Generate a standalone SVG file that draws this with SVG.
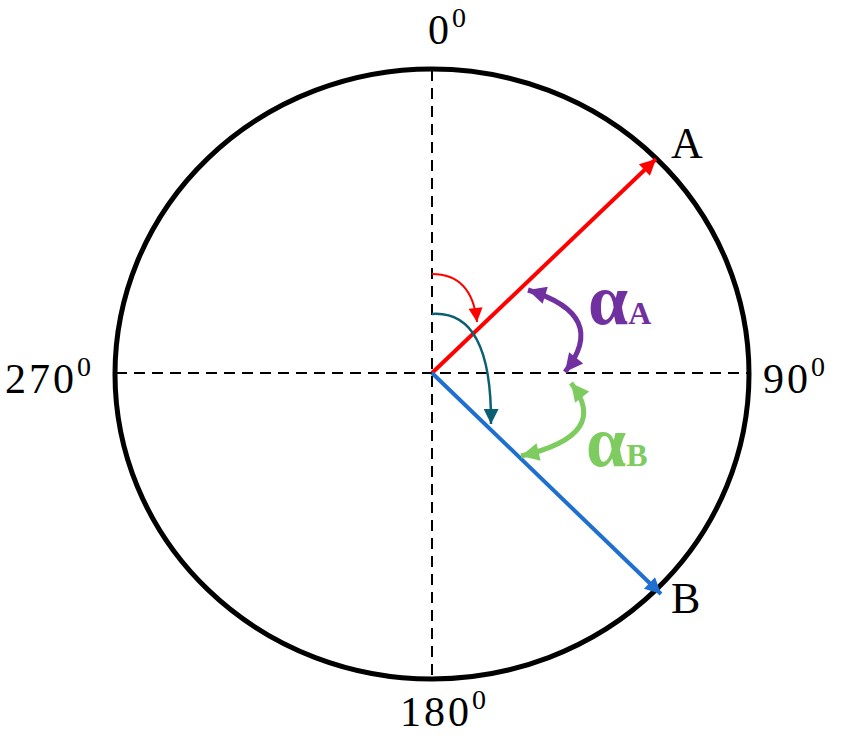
<svg xmlns="http://www.w3.org/2000/svg" width="843" height="739" viewBox="0 0 843 739">
<style>
.lbl{font-family:"Liberation Serif","DejaVu Serif",serif;fill:#000;}
.num{font-size:42px;letter-spacing:3px;}
.ax{stroke:#000;stroke-width:2;stroke-dasharray:11 7;fill:none;}
</style>
<defs>
<marker id="mRed" viewBox="0 0 10 10" refX="10" refY="5" markerUnits="userSpaceOnUse" markerWidth="20" markerHeight="16" orient="auto"><path d="M0,0 L10,5 L0,10 Z" fill="#ff0000"/></marker>
<marker id="mBlue" viewBox="0 0 10 10" refX="10" refY="5" markerUnits="userSpaceOnUse" markerWidth="20" markerHeight="16" orient="auto"><path d="M0,0 L10,5 L0,10 Z" fill="#1f6fd1"/></marker>
<marker id="mRed2" viewBox="0 0 10 10" refX="10" refY="5" markerUnits="userSpaceOnUse" markerWidth="16" markerHeight="14" orient="auto"><path d="M0,0 L10,5 L0,10 Z" fill="#ff0000"/></marker>
<marker id="mTeal" viewBox="0 0 10 10" refX="10" refY="5" markerUnits="userSpaceOnUse" markerWidth="18" markerHeight="15" orient="auto"><path d="M0,0 L10,5 L0,10 Z" fill="#0b5f73"/></marker>
<marker id="mPurple" viewBox="0 0 10 10" refX="10" refY="5" markerUnits="userSpaceOnUse" markerWidth="22" markerHeight="18" orient="auto-start-reverse"><path d="M0,0 L10,5 L0,10 Z" fill="#7030a0"/></marker>
<marker id="mGreen" viewBox="0 0 10 10" refX="10" refY="5" markerUnits="userSpaceOnUse" markerWidth="22" markerHeight="18" orient="auto-start-reverse"><path d="M0,0 L10,5 L0,10 Z" fill="#7ecb5f"/></marker>
</defs>
<rect width="843" height="739" fill="#fff"/>
<g id="circle">
<ellipse cx="432" cy="374" rx="317" ry="305" fill="none" stroke="#000" stroke-width="5"/>
</g>
<g id="axes">
<line class="ax" x1="432" y1="70" x2="432" y2="678"/>
<line class="ax" x1="116" y1="373" x2="748" y2="373"/>
</g>
<g id="connectors">
<line x1="432" y1="373" x2="656" y2="159" stroke="#ff0000" stroke-width="4" marker-end="url(#mRed)"/>
<line x1="432" y1="373" x2="661" y2="594" stroke="#1f6fd1" stroke-width="4" marker-end="url(#mBlue)"/>
<path d="M432,274 Q472,274 477,322" fill="none" stroke="#ff0000" stroke-width="2" marker-end="url(#mRed2)"/>
<path d="M432,314 Q492,310 491,424" fill="none" stroke="#0b5f73" stroke-width="2.5" marker-end="url(#mTeal)"/>
<path d="M528,290 Q610,315 565,372" fill="none" stroke="#7030a0" stroke-width="5" marker-start="url(#mPurple)" marker-end="url(#mPurple)"/>
<path d="M571,383 Q612,435 521,456" fill="none" stroke="#7ecb5f" stroke-width="5" marker-start="url(#mGreen)" marker-end="url(#mGreen)"/>
</g>
<g id="labels">
<text class="lbl num" x="428" y="44">0<tspan font-size="28" dy="-17">0</tspan></text>
<text class="lbl num" x="5" y="393">270<tspan font-size="28" dy="-17">0</tspan></text>
<text class="lbl num" x="763" y="393">90<tspan font-size="28" dy="-17">0</tspan></text>
<text class="lbl num" x="400" y="726">180<tspan font-size="28" dy="-17">0</tspan></text>
<text class="lbl" x="671" y="158" font-size="44">A</text>
<text class="lbl" x="671" y="613" font-size="44">B</text>
<text x="588" y="324" font-family="Liberation Serif, serif" font-weight="bold" fill="#7030a0" font-size="72">α<tspan font-size="32">A</tspan></text>
<text x="586" y="466" font-family="Liberation Serif, serif" font-weight="bold" fill="#7ecb5f" font-size="72">α<tspan font-size="32">B</tspan></text>
</g>
</svg>
